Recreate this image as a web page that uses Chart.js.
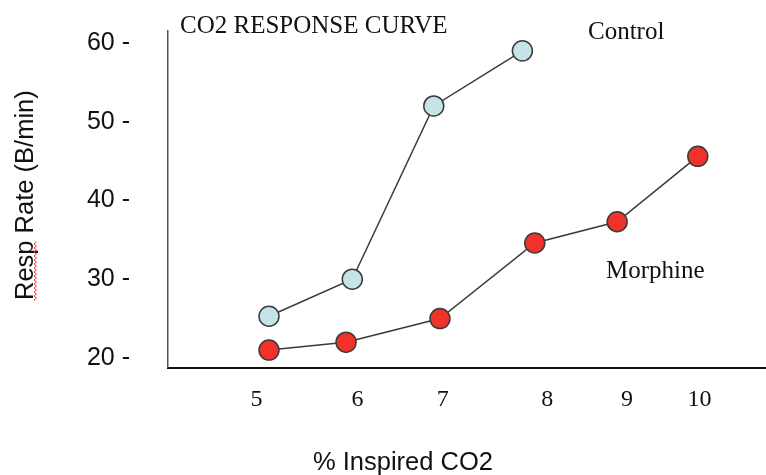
<!DOCTYPE html>
<html>
<head>
<meta charset="utf-8">
<title>CO2 Response Curve</title>
<script src="https://cdn.jsdelivr.net/npm/chart.js@4.4.0/dist/chart.umd.min.js"></script>
<style>
    html, body { margin: 0; padding: 0; background: #ffffff; }
    #wrap { width: 766px; height: 475px; position: relative; }
</style>
</head>
<body>
<div id="wrap"><canvas id="co2Chart"></canvas></div>
<script>
// values
const xTickLabels = ['5', '6', '7', '8', '9', '10'];
const xTickValues = [5, 6.14, 7.1, 8.28, 9.18, 10];   // where each label sits (labels are unevenly spaced)
const yTickValues = [20, 30, 40, 50, 60];

const controlX = [5.14, 6.08, 7.0, 8.0];
const controlY = [25.3, 30.0, 52.0, 59.0];
const morphineX = [5.14, 6.01, 7.07, 8.14, 9.07, 9.98];
const morphineY = [21.0, 22.0, 25.0, 34.6, 37.3, 45.6];

const SANS = '"Liberation Sans", Arial, sans-serif';
const SERIF = '"Liberation Serif", "Times New Roman", serif';

const toPoints = (xs, ys) => xs.map((x, i) => ({ x: x, y: ys[i] }));

const textPlugin = {
    id: 'slideText',
    afterDraw: (chart) => {
        const {ctx} = chart;
        ctx.save();
        ctx.fillStyle = '#111111';
        ctx.textAlign = 'left';
        ctx.textBaseline = 'alphabetic';

        ctx.font = '25px ' + SERIF;
        ctx.fillText('CO2 RESPONSE CURVE', 180, 33);
        ctx.fillText('Control', 588, 39);
        ctx.fillText('Morphine', 606, 278);

        ctx.font = '25.5px ' + SANS;
        ctx.fillText('% Inspired CO2', 313, 470);

        // rotated y title
        ctx.save();
        ctx.translate(33, 300);
        ctx.rotate(-Math.PI / 2);
        ctx.fillText('Resp Rate (B/min)', 0, 0);
        ctx.restore();

        // spell-check squiggle under "Resp"
        ctx.strokeStyle = '#e8392a';
        ctx.lineWidth = 1;
        ctx.beginPath();
        let flip = false;
        ctx.moveTo(35, 300);
        for (let y = 300; y >= 241; y -= 2) {
            ctx.lineTo(flip ? 36.5 : 34, y);
            flip = !flip;
        }
        ctx.stroke();
        ctx.restore();
    }
};

function initChart() {
    const ctx = document.getElementById('co2Chart').getContext('2d');
    return new Chart(ctx, {
        type: 'scatter',
        data: {
            datasets: [
                {
                    label: 'Control',
                    data: toPoints(controlX, controlY),
                    showLine: true,
                    borderColor: '#3a3a3a',
                    borderWidth: 1.5,
                    pointBackgroundColor: '#c6e4e8',
                    pointBorderColor: '#3a3a3a',
                    pointBorderWidth: 1.5,
                    pointRadius: 10,
                    clip: false
                },
                {
                    label: 'Morphine',
                    data: toPoints(morphineX, morphineY),
                    showLine: true,
                    borderColor: '#3a3a3a',
                    borderWidth: 1.5,
                    pointBackgroundColor: '#f0322a',
                    pointBorderColor: '#3a3a3a',
                    pointBorderWidth: 1.5,
                    pointRadius: 10,
                    clip: false
                }
            ]
        },
        options: {
            animation: false,
            responsive: true,
            maintainAspectRatio: false,
            layout: { autoPadding: false, padding: { top: 31, right: 0, bottom: 0, left: 0 } },
            plugins: { legend: { display: false }, tooltip: { enabled: false } },
            scales: {
                x: {
                    type: 'linear',
                    min: 4,
                    max: 10.75,
                    grid: { display: false, drawTicks: false },
                    border: { display: true, color: '#111111', width: 2 },
                    afterBuildTicks: scale => { scale.ticks = xTickValues.map(v => ({ value: v })); },
                    afterFit: scale => {
                        scale.height = 107.5;
                        scale.paddingLeft = 0;
                        scale.paddingRight = 0;
                    },
                    ticks: {
                        autoSkip: false,
                        maxRotation: 0,
                        padding: 18,
                        color: '#111111',
                        font: { family: SERIF, size: 24 },
                        callback: (value, index) => xTickLabels[index]
                    }
                },
                y: {
                    type: 'linear',
                    min: 18.79,
                    max: 61.52,
                    grid: { display: false, drawTicks: false },
                    border: { display: true, color: '#555555', width: 1.5 },
                    afterBuildTicks: scale => { scale.ticks = yTickValues.map(v => ({ value: v })); },
                    afterFit: scale => {
                        scale.width = 168;
                        scale.paddingTop = 0;
                        scale.paddingBottom = 0;
                    },
                    ticks: {
                        padding: 38,
                        color: '#111111',
                        font: { family: SANS, size: 25 },
                        callback: value => value + ' -'
                    }
                }
            }
        },
        plugins: [textPlugin]
    });
}

initChart();
</script>
</body>
</html>
